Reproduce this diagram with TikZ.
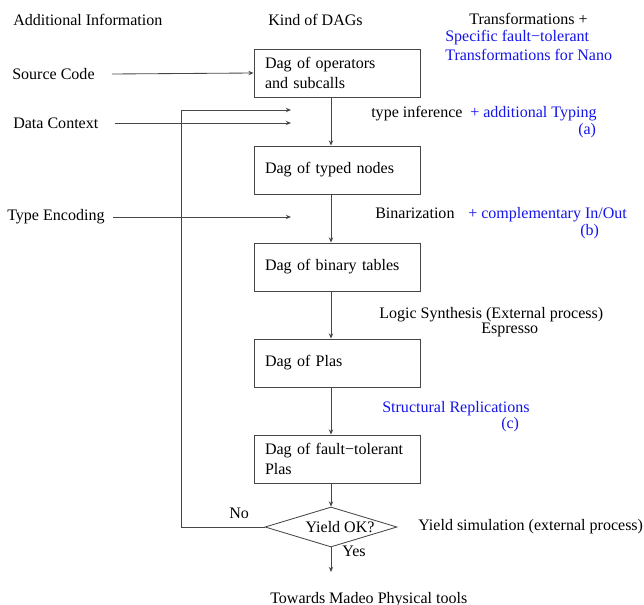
\documentclass[tikz,border=0pt]{standalone}
\usepackage{xcolor}
\usepackage{tikz}
\usepackage{fontspec}
\setmainfont{Liberation Serif}
\usetikzlibrary{arrows.meta,shapes.geometric,positioning,calc}
\definecolor{nanoBlue} {RGB}{20,  20, 235}
\definecolor{lineGray} {RGB}{70,  70,  70}

\begin{document}
\begin{tikzpicture}[x=0.25mm,y=-0.25mm,
          font=\fontsize{11.4}{13.7}\selectfont,
          >={Stealth[length=1.3mm,width=1.1mm]},
          dag/.style={rectangle,draw=lineGray,line width=0.6pt,
                      minimum width=41.5mm,minimum height=12mm,
                      text width=36mm,align=left,inner xsep=2.75mm},
          test/.style={diamond,draw=lineGray,line width=0.6pt,aspect=3.3,
                       inner sep=0pt,minimum width=33mm,minimum height=10mm},
          info/.style={anchor=west,inner sep=0pt},
          txt/.style={anchor=base west,inner sep=0pt},
          nano/.style={txt,text=nanoBlue},
          link/.style={draw=lineGray,line width=0.6pt,->},
        ]
        \useasboundingbox (0,0) rectangle (644,605);
        % column heads
        \node[txt]  (hInfo)  at (13,26) {Additional Information};
        \node[txt]  (hDag)   at (268,26){Kind of DAGs};
        \node[txt]  (hTrans) at (469,25){Transformations +};
        \node[nano] (hSpec)  at (445,42){Specific fault−tolerant};
        \node[nano] (hNano)  at (445,61){Transformations for Nano};
        % the DAG chain
        \coordinate (spine) at (331,0);
        \coordinate (tip)   at (291,0);
        \node[dag]  (b1) at (337,73) {Dag of operators\\and subcalls};
        \node[dag]  (b2) at (337,170){Dag of typed nodes};
        \node[dag]  (b3) at (337,267){Dag of binary tables};
        \node[dag]  (b4) at (337,363){Dag of Plas};
        \node[dag]  (b5) at (337,459){Dag of fault−tolerant\\Plas};
        \node[test] (yield) at (331,527){\hspace*{4.5mm}Yield OK?};
        \foreach \a/\b in {b1/b2,b2/b3,b3/b4,b4/b5}{
          \draw[link](\a.south -| spine)--(\b.north -| spine);
        }
        \draw[link](b5.south -| spine)--(yield.north);
        % additional information
        \node[info] (src) at (12,74) {Source Code};
        \node[info] (dc)  at (13,123){Data Context};
        \node[info] (enc) at (7,217) {Type Encoding};
        \draw[link]([xshift=4.25mm]src.east)--(b1.west);
        \draw[link]([xshift=4mm]dc.east)--(dc.east -| tip);
        \draw[link]([xshift=2mm]enc.east)--(enc.east -| tip);
        % feedback when the yield is too low
        \coordinate (back) at (181,110);
        \draw[link](yield.west) -| (back) -- (back -| tip);
        \node[txt] (no)  at (229,518){No};
        \coordinate (out) at (331,572);
        \draw[link](yield.south)--(out);
        \node[txt] (yes) at (342,556){Yes};
        \node[txt] (sim) at (418,530){Yield simulation (external process)};
        \node[txt] (towards) at (270,603){Towards Madeo Physical tools};
        % transformations
        \node[txt]  (tInf)  at (371,118){type inference};
        \node[nano] (tTyp)  at (470,118){+ additional Typing};
        \node[nano] (tA)    at (578,135){(a)};
        \node[txt]  (tBin)  at (375,218){Binarization};
        \node[nano] (tComp) at (468,218){+ complementary In/Out};
        \node[nano] (tB)    at (580,235){(b)};
        \node[txt]  (tLog)  at (379,318){Logic Synthesis (External process)};
        \node[txt]  (tEsp)  at (481,333){Espresso};
        \node[nano] (tRep)  at (382,412){Structural Replications};
        \node[nano] (tC)    at (501,428){(c)};
      \end{tikzpicture}
\end{document}
